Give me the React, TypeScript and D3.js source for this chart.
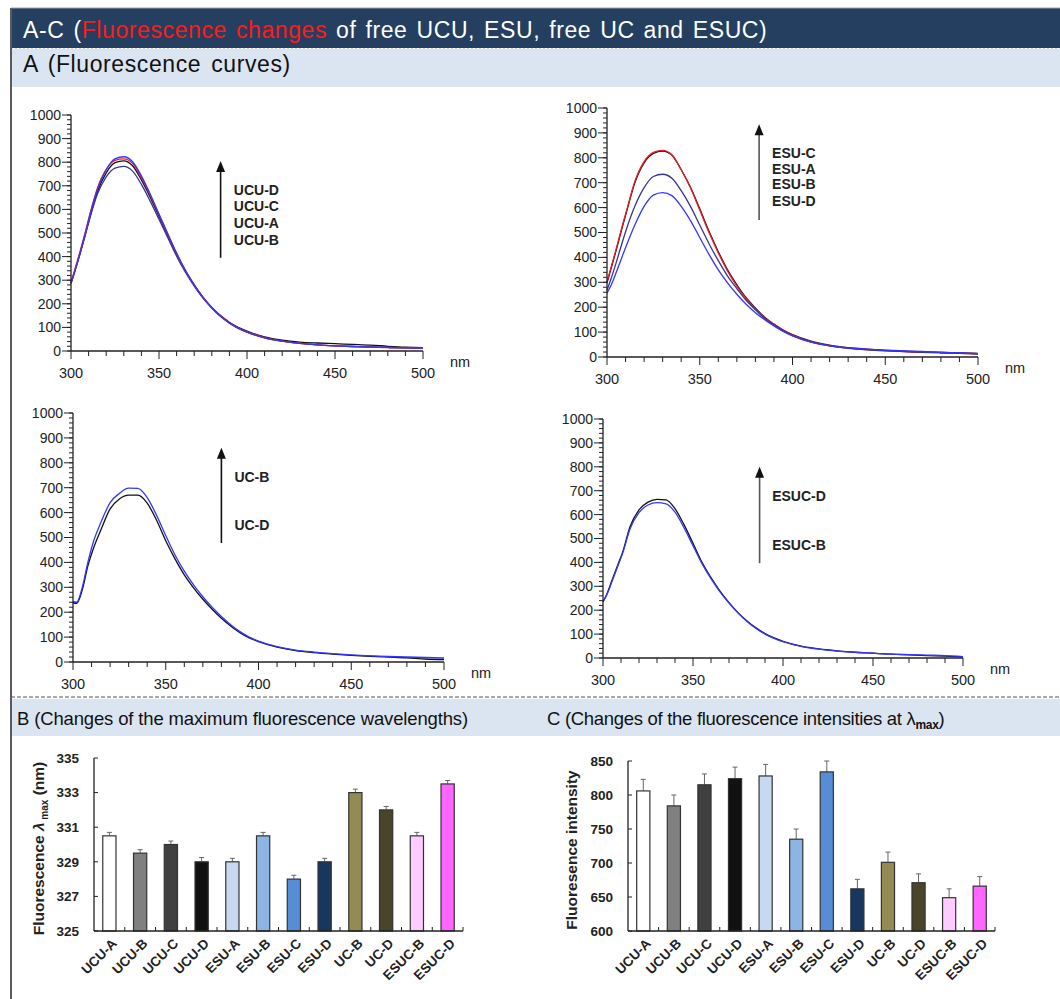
import React from 'react'
import * as d3 from 'd3'

// wavelengths (nm) at which the spectra were read
const wavelengths = [300, 302, 305, 308, 311, 315, 320, 325, 330, 335, 340, 345, 350, 355, 360, 365, 370, 375, 380, 385, 390, 395, 400, 410, 420, 430, 440, 450, 460, 470, 480, 490, 500]

// A: free UCU
const ucuA = [287, 335, 410, 490, 575, 675, 755, 798, 806, 785, 725, 652, 570, 490, 410, 340, 280, 228, 185, 150, 122, 100, 84, 60, 46, 38, 34, 31, 28, 25, 20, 16, 14]
const ucuB = [287, 335, 408, 488, 570, 665, 738, 775, 782, 762, 706, 635, 558, 480, 402, 334, 275, 224, 182, 147, 119, 97, 80, 56, 42, 32, 26, 22, 19, 17, 15, 13, 12]
const ucuC = [290, 340, 418, 500, 588, 690, 770, 808, 814, 795, 735, 660, 577, 495, 413, 341, 280, 227, 184, 148, 120, 98, 81, 57, 42, 32, 26, 22, 19, 16, 14, 13, 12]
const ucuD = [287, 335, 412, 495, 582, 685, 768, 814, 823, 802, 742, 665, 580, 497, 415, 342, 280, 226, 182, 146, 118, 96, 80, 56, 42, 32, 26, 22, 19, 17, 15, 13, 12]

// A: ESU
const esuA = [298, 350, 430, 515, 596, 700, 780, 818, 827, 810, 752, 682, 595, 505, 423, 350, 290, 238, 197, 160, 132, 108, 90, 64, 48, 38, 32, 27, 23, 20, 18, 16, 14]
const esuB = [268, 310, 380, 455, 525, 605, 680, 725, 734, 718, 668, 605, 530, 455, 387, 325, 275, 228, 190, 155, 127, 104, 86, 60, 45, 35, 29, 25, 22, 19, 17, 15, 13]
const esuC = [302, 355, 435, 520, 600, 705, 785, 822, 830, 812, 752, 680, 590, 500, 418, 345, 285, 235, 194, 158, 130, 106, 88, 62, 46, 36, 30, 26, 22, 19, 17, 15, 13]
const esuD = [256, 285, 340, 400, 458, 530, 605, 650, 660, 648, 605, 548, 480, 412, 350, 298, 252, 212, 178, 150, 125, 103, 85, 60, 45, 37, 32, 28, 25, 22, 19, 16, 13]

// A: free UC
const ucB = [242, 240, 300, 400, 483, 560, 640, 677, 698, 697, 660, 590, 508, 430, 365, 310, 262, 220, 183, 150, 122, 100, 84, 62, 48, 40, 34, 29, 25, 22, 20, 18, 16]
const ucD = [238, 236, 290, 385, 456, 530, 615, 655, 670, 670, 638, 570, 487, 414, 350, 298, 252, 212, 176, 145, 118, 97, 82, 60, 46, 38, 32, 27, 23, 20, 17, 12, 10]

// A: ESUC
const esucB = [236, 263, 320, 380, 440, 540, 608, 640, 650, 645, 610, 545, 470, 395, 332, 277, 230, 188, 153, 124, 100, 82, 68, 49, 37, 29, 24, 20, 16, 14, 12, 10, 6]
const esucD = [236, 265, 325, 385, 445, 549, 620, 652, 664, 662, 625, 558, 480, 400, 336, 280, 232, 190, 155, 126, 102, 84, 70, 50, 38, 30, 24, 20, 16, 13, 10, 8, 5]

// B and C
const categories = ['UCU-A', 'UCU-B', 'UCU-C', 'UCU-D', 'ESU-A', 'ESU-B', 'ESU-C', 'ESU-D', 'UC-B', 'UC-D', 'ESUC-B', 'ESUC-D']
const lambdaMax = [330.5, 329.5, 330.0, 329.0, 329.0, 330.5, 328.0, 329.0, 333.0, 332.0, 330.5, 333.5]
const lambdaErr = [0.2, 0.2, 0.2, 0.25, 0.2, 0.2, 0.22, 0.2, 0.2, 0.2, 0.2, 0.2]
const intensity = [806, 784, 815, 824, 828, 735, 834, 662, 701, 671, 649, 666]
const intensityErr = [17, 16, 16, 17, 17, 15, 16, 14, 15, 13, 13, 14]
const lambdaTicks = [325, 327, 329, 331, 333, 335]
const intensityTicks = [600, 650, 700, 750, 800, 850]

const barFill = ['#ffffff', '#808080', '#404040', '#111111', '#c6d9f1', '#8db4e2', '#558ed5', '#17375e', '#948a54', '#4a452a', '#ffccff', '#ff66ff']

const FONT = 'Liberation Sans, Arial, Helvetica, sans-serif'
const BLACK = '#111111'
const RED = '#ee1c24'
const BLUE = '#3535ff'
const NAVY = '#35358f'

const spectra = [
  {
    frame: { left: 71, right: 423, top: 115, bottom: 351 },
    series: [{ v: ucuA, c: BLACK }, { v: ucuB, c: NAVY }, { v: ucuC, c: RED }, { v: ucuD, c: BLUE }],
    labels: ['UCU-D', 'UCU-C', 'UCU-A', 'UCU-B'],
    labelX: 392.5, labelY: [682, 612, 543, 472],
    arrow: { at: 385, from: 395, to: 805 }, arrowColor: '#111'
  },
  {
    frame: { left: 607, right: 978, top: 108, bottom: 357 },
    series: [{ v: esuA, c: BLACK }, { v: esuC, c: RED }, { v: esuB, c: NAVY }, { v: esuD, c: BLUE }],
    labels: ['ESU-C', 'ESU-A', 'ESU-B', 'ESU-D'],
    labelX: 389, labelY: [819, 755, 693, 625],
    arrow: { at: 382, from: 550, to: 935 }, arrowColor: '#555'
  },
  {
    frame: { left: 73, right: 444, top: 413, bottom: 662 },
    series: [{ v: ucD, c: BLACK }, { v: ucB, c: BLUE }],
    labels: ['UC-B', 'UC-D'],
    labelX: 387, labelY: [743, 550],
    arrow: { at: 380, from: 478, to: 860 }, arrowColor: '#111'
  },
  {
    frame: { left: 603, right: 963, top: 419, bottom: 658 },
    series: [{ v: esucD, c: BLACK }, { v: esucB, c: BLUE }],
    labels: ['ESUC-D', 'ESUC-B'],
    labelX: 394, labelY: [678, 473],
    arrow: { at: 387, from: 397, to: 800 }, arrowColor: '#555'
  }
]

const Spectrum = ({ cfg }: any) => {
  const { frame } = cfg
  const x = d3.scaleLinear().domain([300, 500]).range([frame.left, frame.right])
  const y = d3.scaleLinear().domain([0, 1000]).range([frame.bottom, frame.top])
  const lineGen = d3.line<number>()
    .x((_, i) => x(wavelengths[i]))
    .y(d => y(d))
    .curve(d3.curveMonotoneX)

  const ax = x(cfg.arrow.at)
  const aTop = y(cfg.arrow.to)
  return (
    <g fontFamily={FONT}>
      {cfg.series.map((s: any, i: number) => (
        <path key={i} d={lineGen(s.v) || ''} fill='none' stroke={s.c} strokeWidth={1.3} strokeLinejoin='round' />
      ))}
      {/* y axis */}
      <line x1={frame.left} x2={frame.left} y1={frame.top} y2={frame.bottom} stroke='#222' strokeWidth={1.3} />
      {y.ticks(50).map(t => (
        <line key={'m' + t} x1={frame.left - 4} x2={frame.left} y1={y(t)} y2={y(t)} stroke='#222' strokeWidth={1} />
      ))}
      {y.ticks(10).map(t => (
        <g key={t} transform={`translate(${frame.left},${y(t)})`}>
          <line x1={-9} x2={0} stroke='#222' strokeWidth={1} />
          <text x={-10} dy='0.35em' textAnchor='end' fontSize={14} fill='#222'>{t}</text>
        </g>
      ))}
      {/* x axis */}
      <line x1={frame.left} x2={frame.right} y1={frame.bottom} y2={frame.bottom} stroke='#222' strokeWidth={1.3} />
      {x.ticks(20).map(t => (
        <line key={'x' + t} x1={x(t)} x2={x(t)} y1={frame.bottom} y2={frame.bottom + (t % 50 === 0 ? 8 : 5)} stroke='#222' strokeWidth={1} />
      ))}
      {x.ticks(4).map(t => (
        <text key={'xl' + t} x={x(t)} y={frame.bottom + 27} textAnchor='middle' fontSize={14.5} fill='#222'>{t}</text>
      ))}
      <text x={frame.right + 37} y={frame.bottom + 16} textAnchor='middle' fontSize={14.5} fill='#222'>nm</text>
      {/* arrow */}
      <line x1={ax} x2={ax} y1={y(cfg.arrow.from)} y2={aTop + 8} stroke={cfg.arrowColor} strokeWidth={1.6} />
      <path d={`M${ax},${aTop}L${ax - 4.5},${aTop + 11}L${ax + 4.5},${aTop + 11}Z`} fill='#111' />
      {cfg.labels.map((l: string, i: number) => (
        <text key={l} x={x(cfg.labelX)} y={y(cfg.labelY[i])} dy='0.35em' fontSize={14} fontWeight='bold' fill='#222'>{l}</text>
      ))}
    </g>
  )
}

const BarPanel = ({ frame, values, errors, domain, ticks, ytitle }: any) => {
  const x = d3.scaleBand().domain(categories).range([frame.left, frame.right]).paddingInner(0.57).paddingOuter(0.285)
  const y = d3.scaleLinear().domain(domain).range([frame.bottom, frame.top])
  const step = x.step()
  return (
    <g fontFamily={FONT}>
      {categories.map((c, i) => {
        const bx = x(c) as number
        const cx = bx + x.bandwidth() / 2
        const top = y(values[i])
        const et = y(values[i] + errors[i])
        return (
          <g key={c}>
            <line x1={cx} x2={cx} y1={top} y2={et} stroke='#666' strokeWidth={1} />
            <line x1={cx - 2.5} x2={cx + 2.5} y1={et} y2={et} stroke='#666' strokeWidth={1} />
            <rect x={bx} y={top} width={x.bandwidth()} height={frame.bottom - top} fill={barFill[i]} stroke='#333' strokeWidth={1.2} />
            <text transform={`translate(${cx + 5},${frame.bottom + 10}) rotate(-45)`} textAnchor='end' dy='0.35em' fontSize={13.5} fontWeight='bold' fill='#222'>{c}</text>
          </g>
        )
      })}
      <line x1={frame.left} x2={frame.left} y1={frame.top} y2={frame.bottom} stroke='#222' strokeWidth={1.3} />
      <line x1={frame.left} x2={frame.right} y1={frame.bottom} y2={frame.bottom} stroke='#222' strokeWidth={1.3} />
      {categories.map((c, i) => (
        <line key={'t' + c} x1={frame.left + step * (i + 1)} x2={frame.left + step * (i + 1)} y1={frame.bottom} y2={frame.bottom - 4} stroke='#222' strokeWidth={1} />
      ))}
      {ticks.map((t: number) => (
        <g key={t} transform={`translate(${frame.left},${y(t)})`}>
          <line x1={0} x2={4} stroke='#222' strokeWidth={1} />
          <text x={-15} dy='0.35em' textAnchor='end' fontSize={13.5} fontWeight='bold' fill='#222'>{t}</text>
        </g>
      ))}
      <text transform={`translate(${ytitle.x},${(frame.top + frame.bottom) / 2 + 4}) rotate(-90)`} textAnchor='middle' dy='0.35em' fontSize={15.5} fontWeight='bold' fill='#222'>
        {ytitle.parts}
      </text>
    </g>
  )
}

const App = () => {
  const W = 1060
  const H = 999
  return (
    <svg width={W} height={H} style={{ position: 'absolute', left: 0, top: 0, background: '#fff' }} fontFamily={FONT}>
      <rect x={0} y={0} width={W} height={H} fill='#fff' />
      {/* title band */}
      <rect x={11} y={8} width={W - 11} height={40} fill='#243f60' />
      <line x1={11} x2={W} y1={8} y2={8} stroke='#9aa3ad' strokeWidth={1} />
      <text x={23} y={38} fontSize={23} fill='#fff' letterSpacing={0.6} wordSpacing={2}>
        A-C (<tspan fill='#ff1a1a'>Fluorescence changes</tspan> of free UCU, ESU, free UC and ESUC)
      </text>
      <line x1={11} x2={W} y1={48.5} y2={48.5} stroke='#c9d2dc' strokeDasharray='2,2' />
      <rect x={11} y={49} width={W - 11} height={38} fill='#dbe5f1' />
      <text x={23} y={72} fontSize={23} fill='#111' letterSpacing={0.6} wordSpacing={3}>A (Fluorescence curves)</text>

      {spectra.map((cfg, i) => <Spectrum key={i} cfg={cfg} />)}

      {/* B / C band */}
      <line x1={11} x2={W} y1={697} y2={697} stroke='#555' strokeDasharray='4,2' />
      <rect x={11} y={699} width={W - 11} height={37} fill='#dbe5f1' />
      <text x={17} y={725} fontSize={18.5} fill='#111' letterSpacing={-0.15}>B (Changes of the maximum fluorescence wavelengths)</text>
      <text x={547} y={725} fontSize={18.5} fill='#111' letterSpacing={-0.3}>
        C (Changes of the fluorescence intensities at λ<tspan fontSize={12} fontWeight='bold' dy={4}>max</tspan><tspan dy={-4}>)</tspan>
      </text>

      <BarPanel
        frame={{ left: 94, right: 463, top: 758, bottom: 931 }}
        values={lambdaMax} errors={lambdaErr} domain={[325, 335]} ticks={lambdaTicks}
        ytitle={{
          x: 39,
          parts: [
            <tspan key='a'>Fluorescence </tspan>,
            <tspan key='b' fontStyle='italic'>λ</tspan>,
            <tspan key='c' fontSize={10} dy={4}> max</tspan>,
            <tspan key='d' dy={-4}> (nm)</tspan>
          ]
        }}
      />
      <BarPanel
        frame={{ left: 628, right: 995, top: 761, bottom: 931 }}
        values={intensity} errors={intensityErr} domain={[600, 850]} ticks={intensityTicks}
        ytitle={{ x: 572, parts: 'Fluoresence intensity' }}
      />

      {/* left frame edge */}
      <line x1={11} x2={11} y1={8} y2={H} stroke='#5a5a5a' strokeWidth={2} />
    </svg>
  )
}

export default App
